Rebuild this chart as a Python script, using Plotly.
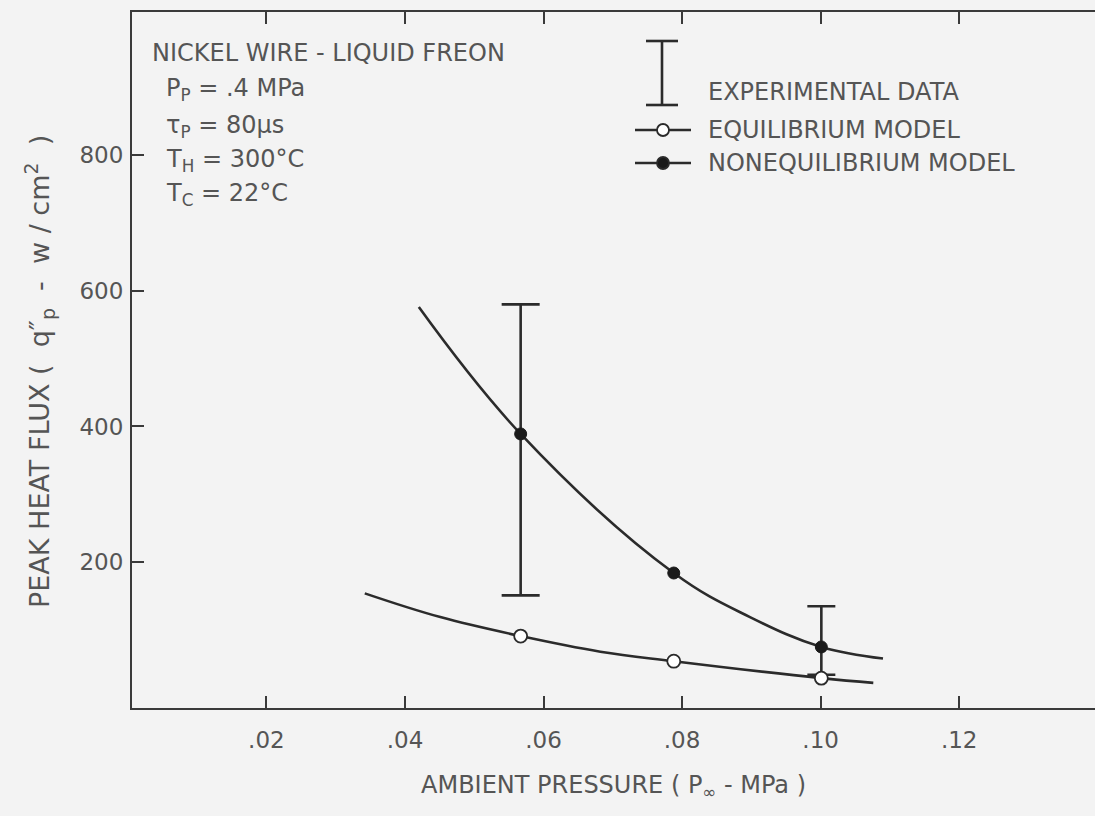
import plotly.graph_objects as go

# ---- data ----
noneq_curve_x = [0.0420, 0.0567, 0.0788, 0.0898, 0.1001, 0.1090]
noneq_curve_y = [576, 389, 184, 119, 75, 58]
eq_curve_x = [0.0342, 0.0451, 0.0567, 0.0682, 0.0788, 0.1001, 0.1076]
eq_curve_y = [154, 119, 91, 68, 54, 29, 22]

model_x = [0.0567, 0.0788, 0.1001]
noneq_pts = [389, 184, 75]
eq_pts = [91, 54, 29]

exp_x = [0.0567, 0.1001]
exp_low = [151, 34]
exp_high = [580, 135]

x_ticks = [0.02, 0.04, 0.06, 0.08, 0.10, 0.12]
x_labels = [".02", ".04", ".06", ".08", ".10", ".12"]
y_ticks = [200, 400, 600, 800]
y_labels = ["200", "400", "600", "800"]

# ---- style ----
FONT = "DejaVu Sans, Liberation Sans, sans-serif"
TXT = "#555555"
INK = "#2b2b2b"
BG = "#f3f3f3"
W, H = 1095, 816
L, R, T, B = 132, 1095, 12, 708
cap_widths = [19, 14]


def px(x):
    return (x - L) / (R - L)


def py(y):
    return (B - y) / (B - T)


fig = go.Figure()

fig.add_trace(go.Scatter(x=noneq_curve_x, y=noneq_curve_y, mode="lines",
                         line=dict(color=INK, width=2.6, shape="spline", smoothing=1.1),
                         showlegend=False, hoverinfo="skip"))
fig.add_trace(go.Scatter(x=eq_curve_x, y=eq_curve_y, mode="lines",
                         line=dict(color=INK, width=2.6, shape="spline", smoothing=1.1),
                         showlegend=False, hoverinfo="skip"))

for i in range(len(exp_x)):
    mid = (exp_low[i] + exp_high[i]) / 2
    half = (exp_high[i] - exp_low[i]) / 2
    fig.add_trace(go.Scatter(x=[exp_x[i]], y=[mid], mode="markers",
                             marker=dict(size=1, opacity=0),
                             error_y=dict(type="data", array=[half], symmetric=True,
                                          width=cap_widths[i], thickness=2.6, color=INK),
                             showlegend=False, hoverinfo="skip"))

fig.add_trace(go.Scatter(x=model_x, y=eq_pts, mode="markers",
                         marker=dict(size=13, color="white", line=dict(color=INK, width=1.8)),
                         showlegend=False))
fig.add_trace(go.Scatter(x=model_x, y=noneq_pts, mode="markers",
                         marker=dict(size=12, color="#1a1a1a", line=dict(color="#1a1a1a", width=1)),
                         showlegend=False))

shapes = []
# legend glyphs
lx = 662
shapes.append(dict(type="line", xref="paper", yref="paper", x0=px(lx), x1=px(lx), y0=py(41), y1=py(105),
                   line=dict(color=INK, width=2.6)))
for yy in (41, 105):
    shapes.append(dict(type="line", xref="paper", yref="paper", x0=px(lx - 16), x1=px(lx + 16),
                       y0=py(yy), y1=py(yy), line=dict(color=INK, width=2.6)))
for yy, fill in ((130, "white"), (163, "#1a1a1a")):
    shapes.append(dict(type="line", xref="paper", yref="paper", x0=px(635), x1=px(691),
                       y0=py(yy), y1=py(yy), line=dict(color=INK, width=2.6)))
    shapes.append(dict(type="circle", xref="paper", yref="paper", xsizemode="pixel", ysizemode="pixel",
                       xanchor=px(663), yanchor=py(yy), x0=-6, x1=6, y0=-6, y1=6,
                       fillcolor=fill, line=dict(color=INK, width=1.8)))

ann = []


def text(x, y, s, xanchor="left", angle=0, size=24):
    ann.append(dict(xref="paper", yref="paper", x=px(x), y=py(y), text=s, showarrow=False,
                    xanchor=xanchor, yanchor="middle", textangle=angle,
                    font=dict(family=FONT, size=size, color=TXT)))


text(150, 53, "NICKEL WIRE - LIQUID FREON")
text(164, 90, "P<sub>P</sub> = .4 MPa")
text(164, 126, "τ<sub>P</sub> = 80μs")
text(164, 160, "T<sub>H</sub> = 300°C")
text(164, 194, "T<sub>C</sub> = 22°C")
text(706, 92, "EXPERIMENTAL DATA")
text(706, 130, "EQUILIBRIUM MODEL")
text(706, 163, "NONEQUILIBRIUM MODEL")
text(613, 787, "AMBIENT PRESSURE ( P<sub>∞</sub> - MPa )", xanchor="center")
text(40, 372, "PEAK HEAT FLUX (  q\u2033<sub>p</sub>  -  w / cm<sup>2</sup>  )",
     xanchor="center", angle=-90, size=27)

fig.update_layout(
    width=W, height=H,
    margin=dict(l=L, r=W - R, t=T, b=H - B, pad=0),
    paper_bgcolor=BG, plot_bgcolor=BG,
    font=dict(family=FONT, size=23, color=TXT),
    shapes=shapes, annotations=ann, showlegend=False,
    xaxis=dict(range=[0.0006, 0.1396], tickvals=x_ticks, ticktext=x_labels,
               showline=True, linecolor="#3a3a3a", linewidth=2, mirror="ticks",
               ticks="inside", ticklen=12, tickwidth=1.5, tickcolor="#3a3a3a",
               showgrid=False, zeroline=False, ticklabelstandoff=10),
    yaxis=dict(range=[-15, 1011], tickvals=y_ticks, ticktext=y_labels,
               showline=True, linecolor="#3a3a3a", linewidth=2, mirror=False,
               ticks="inside", ticklen=12, tickwidth=1.5, tickcolor="#3a3a3a",
               showgrid=False, zeroline=False, ticklabelstandoff=2),
)

fig.write_html("out.html", config={"displayModeBar": False},
               post_script="document.body.style.margin='0';document.body.style.overflow='hidden';")
